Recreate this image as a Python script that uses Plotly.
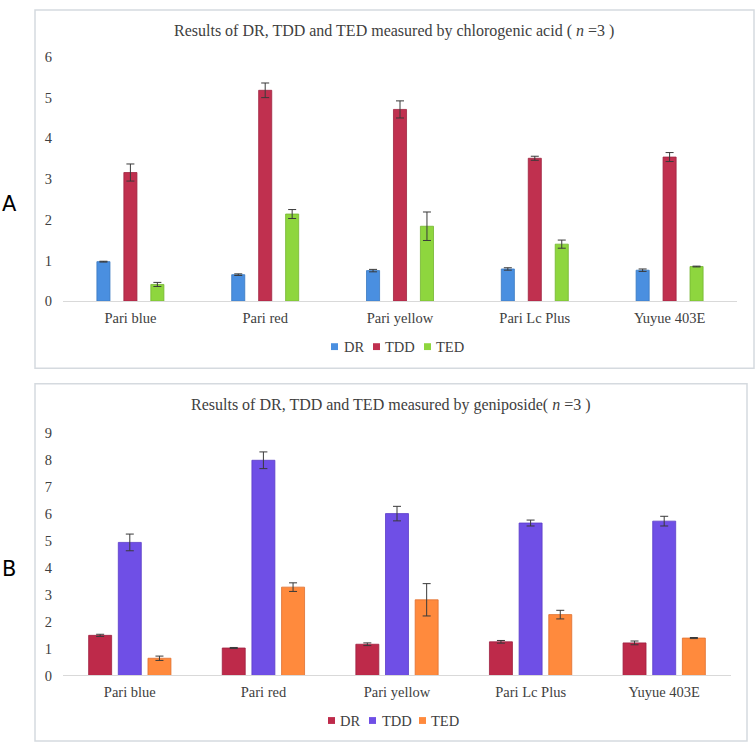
import plotly.graph_objects as go

categories = ["Pari blue", "Pari red", "Pari yellow", "Pari Lc Plus", "Yuyue 403E"]
series_names = ["DR", "TDD", "TED"]

# Panel A: chlorogenic acid
a_dr = [0.97, 0.65, 0.75, 0.79, 0.76]
a_tdd = [3.16, 5.18, 4.71, 3.51, 3.54]
a_ted = [0.41, 2.14, 1.84, 1.40, 0.85]
a_dr_err = [0.01, 0.02, 0.03, 0.03, 0.03]
a_tdd_err = [0.21, 0.18, 0.21, 0.05, 0.11]
a_ted_err = [0.05, 0.11, 0.35, 0.10, 0.01]

# Panel B: geniposide
b_dr = [1.49, 1.02, 1.16, 1.25, 1.21]
b_tdd = [4.94, 7.99, 6.01, 5.66, 5.73]
b_ted = [0.64, 3.28, 2.81, 2.26, 1.39]
b_dr_err = [0.04, 0.02, 0.05, 0.05, 0.07]
b_tdd_err = [0.31, 0.31, 0.27, 0.11, 0.18]
b_ted_err = [0.08, 0.16, 0.60, 0.16, 0.02]

colors_a = ["#4A8FE0", "#C0304F", "#8ED63E"]
colors_b = ["#BE2A4A", "#6F4FE6", "#FF8A3D"]
lines_a = ["#3A78C0", "#9E2440", "#74B52E"]
lines_b = ["#9E2040", "#5A3CC8", "#E07030"]

SERIF = "Liberation Serif"
TXT = "#404040"
W, H = 756, 752

def fy(px):
    return 1 - px / H

fig = go.Figure()

def add_panel(vals, errs, colors, lcols, xa, ya, spacing, width):
    for i, (name, v, e) in enumerate(zip(series_names, vals, errs)):
        fig.add_trace(go.Bar(
            x=categories, y=v, name=name,
            marker=dict(color=colors[i], line=dict(color=lcols[i], width=0.8)),
            error_y=dict(type="data", array=e, visible=True, color="#3A3A3A",
                         thickness=1, width=4),
            xaxis=xa, yaxis=ya, showlegend=False,
            width=width, offset=(i - 1) * spacing - width / 2,
        ))

add_panel([a_dr, a_tdd, a_ted], [a_dr_err, a_tdd_err, a_ted_err],
          colors_a, lines_a, "x", "y", 0.200, 0.097)
add_panel([b_dr, b_tdd, b_ted], [b_dr_err, b_tdd_err, b_ted_err],
          colors_b, lines_b, "x2", "y2", 0.222, 0.172)

axis_common = dict(showgrid=False, zeroline=False, ticks="",
                   tickfont=dict(family=SERIF, size=14.5, color=TXT))

fig.update_layout(
    width=W, height=H,
    margin=dict(l=0, r=0, t=0, b=0),
    paper_bgcolor="white", plot_bgcolor="white",
    barmode="group",
    xaxis=dict(domain=[63 / W, 737 / W], anchor="y", showline=True,
               linecolor="#D9D9D9", linewidth=1.2, ticklabelstandoff=3,
               **axis_common),
    yaxis=dict(domain=[fy(299.5), fy(50)], anchor="x", range=[0, 6],
               dtick=1, showline=False, ticklabelstandoff=10, **axis_common),
    xaxis2=dict(domain=[63 / W, 731 / W], anchor="y2", showline=True,
                linecolor="#D9D9D9", linewidth=1.2, ticklabelstandoff=3,
                **axis_common),
    yaxis2=dict(domain=[fy(682), fy(434.3)], anchor="x2", range=[0, 9],
                dtick=1, showline=False, ticklabelstandoff=10, **axis_common),
)

# Titles
fig.add_annotation(
    text="Results of DR, TDD and TED measured by chlorogenic acid ( <i>n</i> =3 )",
    x=394 / W, y=fy(23), xref="paper", yref="paper", showarrow=False,
    font=dict(family=SERIF, size=16, color=TXT), xanchor="center", yanchor="middle")
fig.add_annotation(
    text="Results of DR, TDD and TED measured by geniposide( <i>n</i> =3 )",
    x=391 / W, y=fy(406), xref="paper", yref="paper", showarrow=False,
    font=dict(family=SERIF, size=16, color=TXT), xanchor="center", yanchor="middle")

# Panel letters
for letter, ypx in (("A", 200), ("B", 573)):
    fig.add_annotation(text=letter, x=9 / W, y=fy(ypx), xref="paper", yref="paper",
                       showarrow=False,
                       font=dict(family="DejaVu Sans", size=21, color="#000"),
                       xanchor="center", yanchor="middle")

# Legends (Excel-style compact legend)
legend_a = [(331, 342, "DR"), (373, 383, "TDD"), (424, 434, "TED")]
legend_b = [(328, 338, "DR"), (369, 380, "TDD"), (419, 429, "TED")]
for (items, cols, ymid) in ((legend_a, colors_a, 346), (legend_b, colors_b, 728)):
    for (sx, tx, label), c in zip(items, cols):
        fig.add_shape(type="rect", xref="paper", yref="paper",
                      x0=sx / W, x1=(sx + 7) / W, y0=fy(ymid + 3.5), y1=fy(ymid - 3.5),
                      fillcolor=c, line=dict(width=0))
        fig.add_annotation(text=label, x=tx / W, y=fy(ymid), xref="paper", yref="paper",
                           showarrow=False, xanchor="left", yanchor="middle",
                           font=dict(family=SERIF, size=14.5, color=TXT))

# Panel borders
fig.add_shape(type="rect", xref="paper", yref="paper",
              x0=35 / W, x1=754 / W, y0=fy(368), y1=fy(2),
              line=dict(color="#D5DADF", width=1.5))
fig.add_shape(type="rect", xref="paper", yref="paper",
              x0=35 / W, x1=747 / W, y0=fy(749), y1=fy(384),
              line=dict(color="#D5DADF", width=1.5))

fig.write_html(
    "out.html",
    config={"displayModeBar": False},
    post_script="document.body.style.margin='0';document.body.style.overflow='hidden';",
)
